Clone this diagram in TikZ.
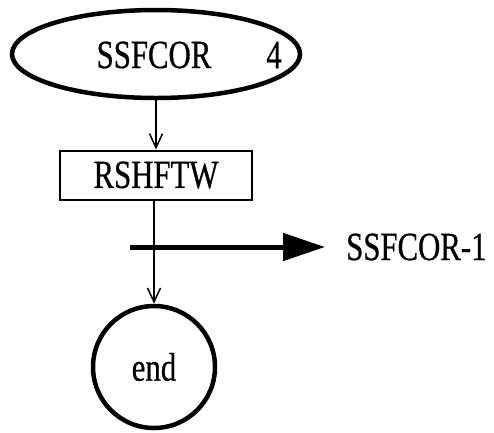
\documentclass[tikz,border=0pt]{standalone}
\usepackage{fontspec}
\newfontfamily\chartfont{Liberation Serif}[FakeStretch=0.77, FakeBold=0.6]
\usepackage{tikz}
\usetikzlibrary{shapes.geometric}
\usetikzlibrary{arrows.meta}
\usetikzlibrary{positioning}
\usetikzlibrary{calc}

\begin{document}
\begin{tikzpicture}[x=1pt, y=1pt,
    every node/.style={font=\chartfont\fontsize{40}{40}\selectfont, inner sep=0pt},
    flow/.style={line width=1.5pt, -{Straight Barb[length=14pt, width=13pt]}}]

      % Page size
      \useasboundingbox (0,0) rectangle (494,-432);

      % Routine call (ellipse) with its argument
      \node (call) [ellipse, draw, line width=4.5pt, minimum width=288pt, minimum height=88pt] at (156,-54) {};
      \node (callname) at (154,-55) {SSFCOR};
      \node (callarg) at (274,-55) {4};

      % Step box
      \node (rshftw) [draw, line width=2pt, minimum width=192pt, minimum height=49pt] at (156,-175) {RSHFTW};

      % End circle
      \node (stop) [circle, draw, line width=4.5pt, minimum size=122pt] at (154,-367) {end};

      % Connectors
      \draw[flow] (call.south) -- (rshftw.north);
      \draw[flow] (rshftw.south -| stop.north) -- (stop.north);

      % Result arrow
      \coordinate (from) at (130,-247);
      \node (result) [anchor=west] at (346,-247) {SSFCOR-1};
      \draw[line width=5pt, -{Triangle[length=42pt, width=27pt]}] (from) -- ($(result.west)+(-21,0)$);

    \end{tikzpicture}
\end{document}
